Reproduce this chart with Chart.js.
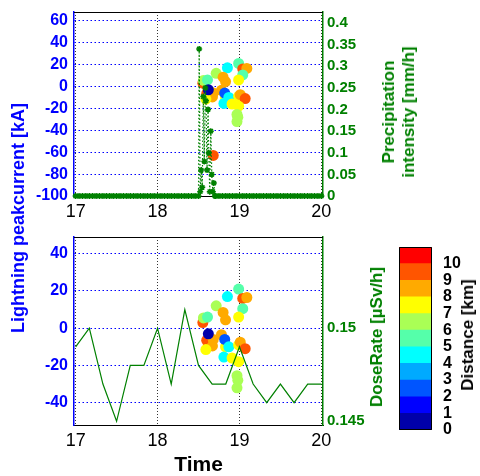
<!DOCTYPE html>
<html>
<head>
<meta charset="utf-8">
<script src="https://cdn.jsdelivr.net/npm/chart.js@4/dist/chart.umd.min.js"></script>
<style>
  html, body { margin: 0; padding: 0; background: #fff; }
  #wrap { position: relative; width: 480px; height: 476px; overflow: hidden; font-family: "Liberation Sans", Arial, sans-serif; }
  canvas { position: absolute; }
  .lbl { position: absolute; white-space: nowrap; font-weight: bold; font-size: 17px; line-height: 20px; text-align: center; transform: translate(-50%, -50%) rotate(-90deg); }
</style>
</head>
<body>
<div id="wrap">
  <canvas id="topChart" width="480" height="250" style="left:0;top:-20px"></canvas>
  <canvas id="botChart" width="480" height="276" style="left:0;top:200px"></canvas>
  <canvas id="cbar" width="100" height="240" style="left:380px;top:220px"></canvas>
  <div class="lbl" style="left:18px;top:218px;color:#0000ff;font-size:18px">Lightning peakcurrent [kA]</div>
  <div class="lbl" style="left:399px;top:112px;color:#008000">Precipitation<br>intensity [mm/h]</div>
  <div class="lbl" style="left:377px;top:337px;color:#008000">DoseRate [µSv/h]</div>
  <div class="lbl" style="left:468px;top:335px;color:#000">Distance [km]</div>
</div>
<script>
// Axis ticks
const xTicks = [17, 18, 19, 20];
const peakTicksTop = [-100, -80, -60, -40, -20, 0, 20, 40, 60];
const precipTicks = [0, 0.05, 0.1, 0.15, 0.2, 0.25, 0.3, 0.35, 0.4];
const peakTicksBot = [-40, -20, 0, 20, 40];
const doseTicks = [0.145, 0.15];
const distTicks = [0, 1, 2, 3, 4, 5, 6, 7, 8, 9, 10];
const distEdges = [0, 1, 2, 3, 4, 5, 6, 7, 8, 9, 10, 11];

// Lightning strokes: time [day], peak current [kA], distance [km]
const lightTime = [18.553, 18.56, 18.61, 18.99, 18.853, 19.04, 19.09, 18.716, 19.04, 18.80, 18.83,
                   18.99, 18.78, 18.60, 18.68, 18.67, 18.59, 18.62, 18.83, 18.82, 18.87, 18.99,
                   19.01, 19.07, 18.81, 18.91, 18.99, 18.97, 18.98, 18.97, 18.68];
const lightPeak = [3, 5.5, 6, 21, 17, 16, 16.5, 12, 10.5, 8.5, 4.5,
                   6, -3.5, -6.5, -6, -9.5, -11.5, -3, -10, -6, -10, -9,
                   -7.5, -11, -15.5, -16, -18, -25.5, -28, -32, -63];
const lightDist = [9.5, 6.5, 5.5, 5.5, 4.5, 9.5, 8.5, 6.5, 5.5, 8.5, 8.5,
                   7.5, 8.5, 9.5, 8.5, 8.5, 7.5, 0.5, 7.5, 2.5, 4.5, 7.5,
                   8.5, 9.5, 4.5, 7.5, 7.5, 6.5, 6.5, 6.5, 9.5];

// Dose rate every 4 hours: time [day], dose rate [uSv/h]
const doseTime = [17.0, 17.167, 17.333, 17.5, 17.667, 17.833, 18.0, 18.167, 18.333, 18.5,
                  18.667, 18.833, 19.0, 19.167, 19.333, 19.5, 19.667, 19.833, 20.0];
const doseRate = [0.149, 0.150, 0.147, 0.145, 0.148, 0.148, 0.150, 0.147, 0.151, 0.148,
                  0.147, 0.147, 0.149, 0.147, 0.146, 0.147, 0.146, 0.147, 0.147];

// Precipitation: hours after day 17 00:00, intensity [mm/h]
const precipHour = [0, 1, 2, 3, 4, 5, 6, 7, 8, 9, 10, 11, 12, 13, 14, 15, 16, 17, 18, 19, 20,
                    21, 22, 23, 24, 25, 26, 27, 28, 29, 30, 31, 32, 33, 34, 35, 36,
                    36.2, 36.5, 36.8, 37.1, 37.4, 37.7, 38.0, 38.2, 38.5, 38.8, 39.0, 39.3,
                    39.6, 39.9, 40.2, 40.5, 40.8,
                    41, 42, 43, 44, 45, 46, 47, 48, 49, 50, 51, 52, 53, 54, 55, 56, 57, 58,
                    59, 60, 61, 62, 63, 64, 65, 66, 67, 68, 69, 70, 71, 72];
const precipRate = [0, 0, 0, 0, 0, 0, 0, 0, 0, 0, 0, 0, 0, 0, 0, 0, 0, 0, 0, 0, 0,
                    0, 0, 0, 0, 0, 0, 0, 0, 0, 0, 0, 0, 0, 0, 0, 0,
                    0.34, 0.01, 0.06, 0.02, 0.23, 0.08, 0.25, 0.22, 0.06, 0.20, 0.10, 0.01,
                    0.15, 0.05, 0.01, 0.03, 0,
                    0, 0, 0, 0, 0, 0, 0, 0, 0, 0, 0, 0, 0, 0, 0, 0, 0, 0,
                    0, 0, 0, 0, 0, 0, 0, 0, 0, 0, 0, 0, 0, 0];

// Colours
const BLUE = '#0000ff';
const GREEN = '#008000';
const distColors = ['#0000aa', '#0000ff', '#0055ff', '#00aaff', '#00ffff', '#55ffaa',
                    '#aaff55', '#ffff00', '#ffaa00', '#ff5500', '#ff0000'];

Chart.defaults.font.family = '"Liberation Sans", Arial, sans-serif';

function distColor(d) {
    return distColors[Math.min(distColors.length - 1, Math.floor(d))];
}

function fixTicks(values) {
    return scale => { scale.ticks = values.map(v => ({ value: v })); };
}

// box line on top (or all round) of the plot area
const frame = {
    id: 'frame',
    afterDraw(chart, args, opts) {
        const { ctx, chartArea: a } = chart;
        ctx.save();
        ctx.strokeStyle = '#000';
        ctx.lineWidth = 1;
        ctx.beginPath();
        if (opts.all) {
            ctx.rect(a.left + 0.5, a.top + 0.5, a.width - 1, a.height - 1);
        } else {
            ctx.moveTo(a.left, a.top + 0.5);
            ctx.lineTo(a.right, a.top + 0.5);
        }
        ctx.stroke();
        ctx.restore();
    }
};

const lightningData = lightTime.map((t, i) => ({ x: t, y: lightPeak[i] }));
const lightningColors = lightDist.map(distColor);

function timeAxis(height, withTitle) {
    return {
        type: 'linear',
        min: 16.98,
        max: 20.02,
        afterBuildTicks: fixTicks(xTicks),
        afterFit: s => { s.height = height; },
        ticks: { color: '#000', font: { size: 18 }, padding: 5, maxRotation: 0, autoSkip: false, callback: v => String(v) },
        grid: { color: '#333', lineWidth: 1, drawTicks: false },
        border: { display: true, color: '#000', width: 1, dash: [1, 2] },
        title: {
            display: withTitle,
            text: 'Time',
            color: '#000',
            font: { size: 21, weight: 'bold', lineHeight: 1 },
            padding: { top: 0, bottom: 0 }
        }
    };
}

function leftAxis(min, max, ticks) {
    return {
        type: 'linear',
        position: 'left',
        min: min,
        max: max,
        afterBuildTicks: fixTicks(ticks),
        afterFit: s => { s.width = 74; },
        ticks: { color: BLUE, font: { size: 16, weight: 'bold' }, padding: 6, autoSkip: false, callback: v => String(v) },
        grid: { color: BLUE, lineWidth: 1, drawTicks: false },
        border: { color: BLUE, width: 1.5, dash: [1.5, 2.5] }
    };
}

function rightAxis(min, max, ticks) {
    return {
        type: 'linear',
        position: 'right',
        min: min,
        max: max,
        afterBuildTicks: fixTicks(ticks),
        afterFit: s => { s.width = 157; },
        ticks: { color: GREEN, font: { size: 15, weight: 'bold' }, padding: 4, autoSkip: false, callback: v => String(v) },
        grid: { drawOnChartArea: false, drawTicks: false },
        border: { color: GREEN, width: 1.5 }
    };
}

const baseOptions = {
    responsive: false,
    animation: false,
    events: []
};

// Top panel: lightning + precipitation
new Chart(document.getElementById('topChart'), {
    type: 'scatter',
    data: {
        datasets: [{
            label: 'Precipitation intensity',
            data: precipHour.map((h, i) => ({ x: 17 + h / 24, y: precipRate[i] })),
            yAxisID: 'yR',
            showLine: true,
            borderColor: GREEN,
            borderWidth: 1.2,
            borderDash: [1.5, 2],
            pointStyle: 'star',
            pointRadius: 3,
            pointBorderColor: GREEN,
            pointBackgroundColor: GREEN,
            pointBorderWidth: 1.5,
            clip: false
        }, {
            label: 'Lightning',
            data: lightningData,
            yAxisID: 'y',
            pointRadius: 5.5,
            pointBorderWidth: 0,
            pointBackgroundColor: lightningColors
        }]
    },
    options: {
        ...baseOptions,
        layout: { padding: { top: 32 } },
        plugins: { legend: { display: false }, tooltip: { enabled: false }, frame: { all: false } },
        scales: {
            x: timeAxis(34, false),
            y: leftAxis(-100, 68, peakTicksTop),
            yR: rightAxis(0, 0.4255, precipTicks)
        }
    },
    plugins: [frame]
});

// Bottom panel: lightning + dose rate
new Chart(document.getElementById('botChart'), {
    type: 'scatter',
    data: {
        datasets: [{
            label: 'DoseRate',
            data: doseTime.map((t, i) => ({ x: t, y: doseRate[i] })),
            yAxisID: 'yR',
            showLine: true,
            borderColor: GREEN,
            borderWidth: 1.2,
            pointRadius: 0
        }, {
            label: 'Lightning',
            data: lightningData,
            yAxisID: 'y',
            pointRadius: 5.5,
            pointBorderWidth: 0,
            pointBackgroundColor: lightningColors
        }]
    },
    options: {
        ...baseOptions,
        layout: { padding: { top: 37 } },
        plugins: { legend: { display: false }, tooltip: { enabled: false }, frame: { all: false } },
        scales: {
            x: timeAxis(51, true),
            y: leftAxis(-52, 49, peakTicksBot),
            yR: rightAxis(0.1448, 0.1549, doseTicks)
        }
    },
    plugins: [frame]
});

// Colour bar for distance
new Chart(document.getElementById('cbar'), {
    type: 'bar',
    data: {
        labels: [''],
        datasets: distColors.map((c, k) => ({
            data: [[distEdges[k], distEdges[k + 1]]],
            backgroundColor: c,
            borderWidth: 0,
            grouped: false,
            barPercentage: 1,
            categoryPercentage: 1
        }))
    },
    options: {
        ...baseOptions,
        layout: { padding: { left: 19, top: 27, bottom: 30 } },
        plugins: { legend: { display: false }, tooltip: { enabled: false }, frame: { all: true } },
        scales: {
            x: { display: false },
            y: {
                position: 'right',
                min: 0,
                max: 11,
                afterBuildTicks: fixTicks(distTicks),
                afterFit: s => { s.width = 48; },
                ticks: { color: '#000', font: { size: 16, weight: 'bold', lineHeight: 1 }, padding: 3, autoSkip: false },
                grid: { display: false },
                border: { display: false }
            }
        }
    },
    plugins: [frame]
});
</script>
</body>
</html>
